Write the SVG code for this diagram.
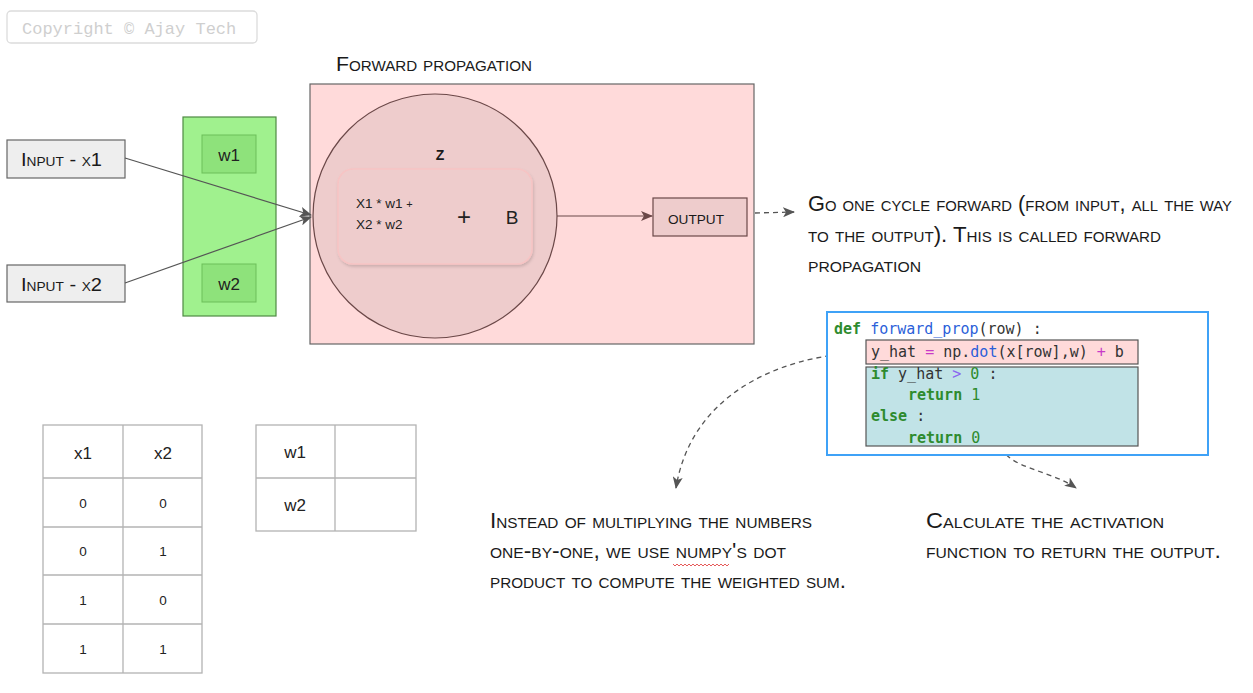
<svg xmlns="http://www.w3.org/2000/svg" width="1253" height="693" viewBox="0 0 1253 693">
<style>
.hand{font-family:"Liberation Sans",Arial,sans-serif;font-variant:small-caps;fill:#1a1a1a;}
.sans{font-family:"Liberation Sans",Arial,sans-serif;fill:#222;}
.code{font-family:"DejaVu Sans Mono","Liberation Mono",monospace;font-size:15px;fill:#333;}
.kw{fill:#2e8b2e;font-weight:bold;}
.fn{fill:#2b5fd9;}
.op{fill:#c83ac8;}
.gt{fill:#8a66f0;}
.num{fill:#2e8b2e;}
.grid{fill:none;stroke:#b3b3b3;stroke-width:1.3;}
.conn{fill:none;stroke:#555;stroke-width:1.2;}
.dash{fill:none;stroke:#555;stroke-width:1.3;stroke-dasharray:5 4;}
</style>
<defs>
<marker id="ah" viewBox="0 0 12 10" refX="11" refY="5" markerWidth="12" markerHeight="10" markerUnits="userSpaceOnUse" orient="auto">
<path d="M0,0 L12,5 L0,10 L3,5 z" fill="#555"/>
</marker>
<marker id="ahb" viewBox="0 0 12 10" refX="11" refY="5" markerWidth="12" markerHeight="10" markerUnits="userSpaceOnUse" orient="auto">
<path d="M0,0 L12,5 L0,10 L3,5 z" fill="#6b4848"/>
</marker>
<filter id="sh" x="-10%" y="-10%" width="130%" height="130%">
<feDropShadow dx="1" dy="2" stdDeviation="1.5" flood-color="#000" flood-opacity="0.15"/>
</filter>
</defs>

<g id="copyright">
<rect x="7" y="11" width="250" height="32" rx="4" fill="#fff" stroke="#dcdcdc" stroke-width="1.3"/>
<text x="22" y="34" font-family="'Liberation Mono',monospace" font-size="17" fill="#cfcfcf">Copyright © Ajay Tech</text>
</g>

<g id="title">
<text class="hand" x="336" y="71" font-size="21" textLength="196" lengthAdjust="spacingAndGlyphs">Forward propagation</text>
</g>

<g id="forward-box">
<rect x="310" y="84" width="444" height="260" fill="#ffdada" stroke="#666" stroke-width="1.2"/>
</g>

<g id="neuron">
<circle cx="435" cy="216" r="122" fill="#eecccc" stroke="#6b4848" stroke-width="1.2"/>
<text class="hand" x="440" y="160" font-size="20" text-anchor="middle" font-weight="bold">z</text>
<rect x="338" y="169" width="194" height="95" rx="15" fill="#eecccc" stroke="#f7c4c4" stroke-width="1.5" filter="url(#sh)"/>
<text class="sans" x="356" y="208" font-size="13.5" fill="#3a2a2a">X1 * w1 <tspan font-size="11">+</tspan></text>
<text class="sans" x="356" y="229" font-size="13.5" fill="#3a2a2a">X2 * w2</text>
<text class="sans" x="464" y="225" font-size="24" text-anchor="middle" fill="#222">+</text>
<text class="sans" x="512" y="224" font-size="19" text-anchor="middle" fill="#222">B</text>
</g>

<g id="output">
<rect x="653" y="198" width="94" height="38" fill="#eecccc" stroke="#6b4848" stroke-width="1.2"/>
<text class="hand" x="668" y="224" font-size="19" textLength="56" lengthAdjust="spacingAndGlyphs">output</text>
</g>

<g id="weights">
<rect x="183" y="117" width="93" height="199" fill="#a0f18e" stroke="#4f8a43" stroke-width="1.2"/>
<g id="w1">
<rect x="202" y="135" width="54" height="38" fill="#8ee27b" stroke="#6cbf5a" stroke-width="1"/>
<text class="sans" x="229" y="161" font-size="17" text-anchor="middle" fill="#4a5a46">w1</text>
</g>
<g id="w2">
<rect x="202" y="264" width="54" height="38" fill="#8ee27b" stroke="#6cbf5a" stroke-width="1"/>
<text class="sans" x="229" y="290" font-size="17" text-anchor="middle" fill="#4a5a46">w2</text>
</g>
</g>

<g id="input-x1">
<rect x="7" y="140" width="118" height="38" fill="#eeeeee" stroke="#666" stroke-width="1.2"/>
<text class="hand" x="21" y="166" font-size="19" textLength="81" lengthAdjust="spacingAndGlyphs">Input - x1</text>
</g>
<g id="input-x2">
<rect x="7" y="265" width="118" height="37" fill="#eeeeee" stroke="#666" stroke-width="1.2"/>
<text class="hand" x="21" y="291" font-size="19" textLength="81" lengthAdjust="spacingAndGlyphs">Input - x2</text>
</g>

<g id="connectors">
<line class="conn" x1="125" y1="158" x2="311" y2="215" marker-end="url(#ah)"/>
<line class="conn" x1="125" y1="283" x2="311" y2="217" marker-end="url(#ah)"/>
<line x1="557" y1="216" x2="652" y2="216" stroke="#6b4848" stroke-width="1.2" marker-end="url(#ahb)"/>
<line class="dash" x1="755" y1="213" x2="794" y2="212" marker-end="url(#ah)"/>
<path class="dash" d="M866,352 C770,356 690,400 676,488" marker-end="url(#ah)"/>
<path class="dash" d="M1002,447 C1008,468 1050,470 1076,488" marker-end="url(#ah)"/>
</g>

<g id="note-forward">
<text class="hand" x="808" y="211" font-size="22" textLength="424" lengthAdjust="spacingAndGlyphs">Go one cycle forward (from input, all the way</text>
<text class="hand" x="808" y="242" font-size="22" textLength="353" lengthAdjust="spacingAndGlyphs">to the output). This is called forward</text>
<text class="hand" x="808" y="272" font-size="22" textLength="113" lengthAdjust="spacingAndGlyphs">propagation</text>
</g>

<g id="code">
<rect x="827" y="312" width="381" height="143" fill="#fff" stroke="#3fa2f7" stroke-width="2"/>
<text class="code" x="834" y="334"><tspan class="kw">def</tspan> <tspan class="fn">forward_prop</tspan>(row) :</text>
<rect x="866" y="340" width="272" height="24" fill="#ffdada" stroke="#555" stroke-width="1.2"/>
<text class="code" x="871" y="357">y_hat <tspan class="op">=</tspan> np.<tspan class="fn">dot</tspan>(x[row],w) <tspan class="op">+</tspan> b</text>
<rect x="866" y="367" width="272" height="79" fill="#c1e3e7" stroke="#555" stroke-width="1.2"/>
<text class="code" x="871" y="379"><tspan class="kw">if</tspan> y_hat <tspan class="gt">&gt;</tspan> <tspan class="num">0</tspan> :</text>
<text class="code" x="908" y="400"><tspan class="kw">return</tspan> <tspan class="num">1</tspan></text>
<text class="code" x="871" y="421"><tspan class="kw">else</tspan> :</text>
<text class="code" x="908" y="443"><tspan class="kw">return</tspan> <tspan class="num">0</tspan></text>
</g>

<g id="note-dot">
<text class="hand" x="490" y="528" font-size="22" textLength="322" lengthAdjust="spacingAndGlyphs">Instead of multiplying the numbers</text>
<text class="hand" x="490" y="558" font-size="22" textLength="296" lengthAdjust="spacingAndGlyphs">one-by-one, we use numpy's dot</text>
<text class="hand" x="490" y="588" font-size="22" textLength="356" lengthAdjust="spacingAndGlyphs">product to compute the weighted sum.</text>
<path d="M673,564 l2,2 l2,-2 l2,2 l2,-2 l2,2 l2,-2 l2,2 l2,-2 l2,2 l2,-2 l2,2 l2,-2 l2,2 l2,-2 l2,2 l2,-2 l2,2 l2,-2 l2,2 l2,-2 l2,2 l2,-2 l2,2 l2,-2 l2,2 l2,-2 l2,2 l2,-2" fill="none" stroke="#e03030" stroke-width="0.8"/>
</g>

<g id="note-activation">
<text class="hand" x="926" y="528" font-size="22" textLength="238" lengthAdjust="spacingAndGlyphs">Calculate the activation</text>
<text class="hand" x="926" y="558" font-size="22" textLength="295" lengthAdjust="spacingAndGlyphs">function to return the output.</text>
</g>

<g id="table-x">
<rect class="grid" x="43" y="425" width="159" height="248"/>
<line class="grid" x1="123" y1="425" x2="123" y2="673"/>
<line class="grid" x1="43" y1="478" x2="202" y2="478"/>
<line class="grid" x1="43" y1="527" x2="202" y2="527"/>
<line class="grid" x1="43" y1="575" x2="202" y2="575"/>
<line class="grid" x1="43" y1="624" x2="202" y2="624"/>
<text class="sans" x="83" y="459" font-size="17" text-anchor="middle">x1</text>
<text class="sans" x="163" y="459" font-size="17" text-anchor="middle">x2</text>
<text class="sans" x="83" y="508" font-size="13.5" text-anchor="middle">0</text>
<text class="sans" x="163" y="508" font-size="13.5" text-anchor="middle">0</text>
<text class="sans" x="83" y="556" font-size="13.5" text-anchor="middle">0</text>
<text class="sans" x="163" y="556" font-size="13.5" text-anchor="middle">1</text>
<text class="sans" x="83" y="605" font-size="13.5" text-anchor="middle">1</text>
<text class="sans" x="163" y="605" font-size="13.5" text-anchor="middle">0</text>
<text class="sans" x="83" y="654" font-size="13.5" text-anchor="middle">1</text>
<text class="sans" x="163" y="654" font-size="13.5" text-anchor="middle">1</text>
</g>

<g id="table-w">
<rect class="grid" x="256" y="425" width="160" height="106"/>
<line class="grid" x1="335" y1="425" x2="335" y2="531"/>
<line class="grid" x1="256" y1="478" x2="416" y2="478"/>
<text class="sans" x="295" y="458" font-size="17" text-anchor="middle">w1</text>
<text class="sans" x="295" y="511" font-size="17" text-anchor="middle">w2</text>
</g>
</svg>
